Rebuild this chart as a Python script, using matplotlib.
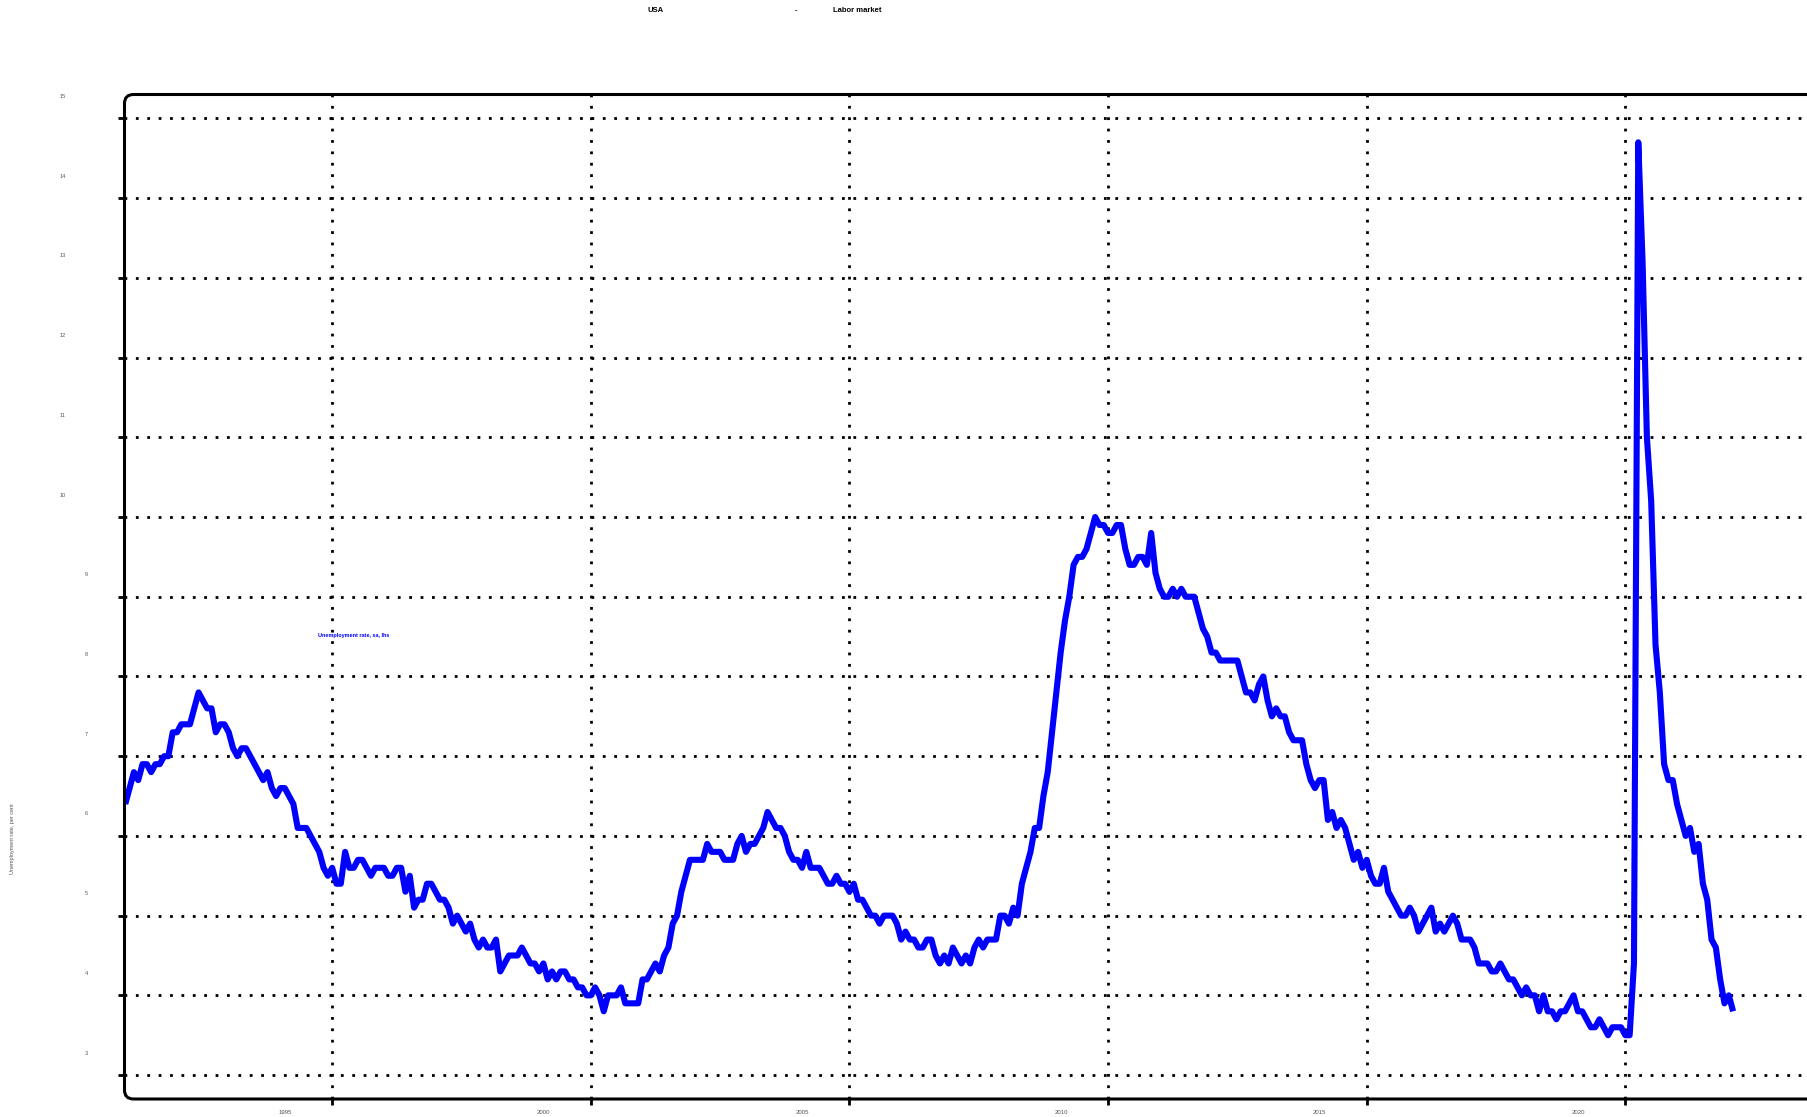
#!/usr/bin/env python

# plot.py - US unemployment rate, monthly, sa (Labor market chart)

# require
import matplotlib
matplotlib.use( 'Agg' )
import matplotlib.pyplot as plt
import matplotlib.transforms as mtrans
from matplotlib.patches import FancyBboxPatch
import numpy as np

# configure
plt.rcParams[ 'font.family' ] = [ 'Liberation Sans', 'DejaVu Sans' ]

TITLE_LEFT  = 'USA'
TITLE_SEP   = '-'
TITLE_RIGHT = 'Labor market'
YLABEL      = 'Unemployment rate, per cent'
SERIES      = 'Unemployment rate, sa, lhs'
START_YEAR  = 1991

# monthly values, Jan 1991 onwards
rate_1990s = [ 6.4, 6.6, 6.8, 6.7, 6.9, 6.9, 6.8, 6.9, 6.9, 7.0, 7.0, 7.3,
               7.3, 7.4, 7.4, 7.4, 7.6, 7.8, 7.7, 7.6, 7.6, 7.3, 7.4, 7.4,
               7.3, 7.1, 7.0, 7.1, 7.1, 7.0, 6.9, 6.8, 6.7, 6.8, 6.6, 6.5,
               6.6, 6.6, 6.5, 6.4, 6.1, 6.1, 6.1, 6.0, 5.9, 5.8, 5.6, 5.5,
               5.6, 5.4, 5.4, 5.8, 5.6, 5.6, 5.7, 5.7, 5.6, 5.5, 5.6, 5.6,
               5.6, 5.5, 5.5, 5.6, 5.6, 5.3, 5.5, 5.1, 5.2, 5.2, 5.4, 5.4,
               5.3, 5.2, 5.2, 5.1, 4.9, 5.0, 4.9, 4.8, 4.9, 4.7, 4.6, 4.7,
               4.6, 4.6, 4.7, 4.3, 4.4, 4.5, 4.5, 4.5, 4.6, 4.5, 4.4, 4.4,
               4.3, 4.4, 4.2, 4.3, 4.2, 4.3, 4.3, 4.2, 4.2, 4.1, 4.1, 4.0 ]
rate_2000s = [ 4.0, 4.1, 4.0, 3.8, 4.0, 4.0, 4.0, 4.1, 3.9, 3.9, 3.9, 3.9,
               4.2, 4.2, 4.3, 4.4, 4.3, 4.5, 4.6, 4.9, 5.0, 5.3, 5.5, 5.7,
               5.7, 5.7, 5.7, 5.9, 5.8, 5.8, 5.8, 5.7, 5.7, 5.7, 5.9, 6.0,
               5.8, 5.9, 5.9, 6.0, 6.1, 6.3, 6.2, 6.1, 6.1, 6.0, 5.8, 5.7,
               5.7, 5.6, 5.8, 5.6, 5.6, 5.6, 5.5, 5.4, 5.4, 5.5, 5.4, 5.4,
               5.3, 5.4, 5.2, 5.2, 5.1, 5.0, 5.0, 4.9, 5.0, 5.0, 5.0, 4.9,
               4.7, 4.8, 4.7, 4.7, 4.6, 4.6, 4.7, 4.7, 4.5, 4.4, 4.5, 4.4,
               4.6, 4.5, 4.4, 4.5, 4.4, 4.6, 4.7, 4.6, 4.7, 4.7, 4.7, 5.0,
               5.0, 4.9, 5.1, 5.0, 5.4, 5.6, 5.8, 6.1, 6.1, 6.5, 6.8, 7.3,
               7.8, 8.3, 8.7, 9.0, 9.4, 9.5, 9.5, 9.6, 9.8, 10.0, 9.9, 9.9 ]
rate_2010s = [ 9.8, 9.8, 9.9, 9.9, 9.6, 9.4, 9.4, 9.5, 9.5, 9.4, 9.8, 9.3,
               9.1, 9.0, 9.0, 9.1, 9.0, 9.1, 9.0, 9.0, 9.0, 8.8, 8.6, 8.5,
               8.3, 8.3, 8.2, 8.2, 8.2, 8.2, 8.2, 8.0, 7.8, 7.8, 7.7, 7.9,
               8.0, 7.7, 7.5, 7.6, 7.5, 7.5, 7.3, 7.2, 7.2, 7.2, 6.9, 6.7,
               6.6, 6.7, 6.7, 6.2, 6.3, 6.1, 6.2, 6.1, 5.9, 5.7, 5.8, 5.6,
               5.7, 5.5, 5.4, 5.4, 5.6, 5.3, 5.2, 5.1, 5.0, 5.0, 5.1, 5.0,
               4.8, 4.9, 5.0, 5.1, 4.8, 4.9, 4.8, 4.9, 5.0, 4.9, 4.7, 4.7,
               4.7, 4.6, 4.4, 4.4, 4.4, 4.3, 4.3, 4.4, 4.3, 4.2, 4.2, 4.1,
               4.0, 4.1, 4.0, 4.0, 3.8, 4.0, 3.8, 3.8, 3.7, 3.8, 3.8, 3.9,
               4.0, 3.8, 3.8, 3.7, 3.6, 3.6, 3.7, 3.6, 3.5, 3.6, 3.6, 3.6 ]
rate_2020s = [ 3.5, 3.5, 4.4, 14.7, 13.2, 11.0, 10.2, 8.4, 7.8, 6.9, 6.7, 6.7,
               6.4, 6.2, 6.0, 6.1, 5.8, 5.9, 5.4, 5.2, 4.7, 4.6, 4.2, 3.9,
               4.0, 3.8 ]

y_ticks = [ 3, 4, 5, 6, 7, 8, 9, 10, 11, 12, 13, 14, 15 ]
x_ticks = [ 1995, 2000, 2005, 2010, 2015, 2020 ]

# initialize
rate  = np.array( rate_1990s + rate_2000s + rate_2010s + rate_2020s )
years = START_YEAR + np.arange( len( rate ) ) / 12.0

W, H = 1808, 1117
fig  = plt.figure( figsize=( W / 100, H / 100 ), dpi=100 )
ax   = fig.add_axes( [ 124.5 / W, 18 / H, 1.03 - 124.5 / W, ( 1099 - 94.5 ) / H ] )

# the series
ax.plot( years, rate, color='#0000ff', linewidth=4.4, solid_joinstyle='round', solid_capstyle='butt', zorder=3 )
ax.set_xlim( 1990.985, 2024.58 )
ax.set_ylim( 2.7, 15.3 )

# grid, ticks
ax.set_xticks( x_ticks )
ax.set_yticks( y_ticks )
ax.grid( True, color='black', linestyle=( 0, ( 1, 3.1 ) ), linewidth=2.0 )
ax.tick_params( axis='both', direction='out', length=4.5, width=2.0, color='black', labelbottom=False, labelleft=False )
for side in ax.spines.values() : side.set_visible( False )

# tick labels, shifted the way the original draws them
ylab = mtrans.blended_transform_factory( fig.transFigure, ax.transData ) + mtrans.ScaledTranslation( 0, 22 / 100, fig.dpi_scale_trans )
for v in y_ticks :
	xpos = 63 if v >= 10 else 86
	ax.text( xpos / W, v, str( v ), transform=ylab, ha='center', va='center', fontsize=4, color='#555555' )

xlab = mtrans.blended_transform_factory( ax.transData, fig.transFigure ) + mtrans.ScaledTranslation( -47 / 100, 0, fig.dpi_scale_trans )
for v in x_ticks :
	ax.text( v, 1 - 1112 / H, str( v ), transform=xlab, ha='center', va='center', fontsize=4.3, color='#555555' )

# rounded frame
frame = FancyBboxPatch( ( 124.5, 18 ), 1900, 1099 - 94.5, boxstyle='round,pad=0,rounding_size=9',
                        transform=mtrans.IdentityTransform(), facecolor='none', edgecolor='black', linewidth=2.2, zorder=5 )
fig.add_artist( frame )

# texts
fig.text( 656 / W, 1 - 10.5 / H, TITLE_LEFT, ha='center', va='center', fontsize=5.5, fontweight='bold' )
fig.text( 796 / W, 1 - 10.5 / H, TITLE_SEP, ha='center', va='center', fontsize=5.5, fontweight='bold' )
fig.text( 857 / W, 1 - 10.5 / H, TITLE_RIGHT, ha='center', va='center', fontsize=5.5, fontweight='bold' )
fig.text( 13 / W, 1 - 839 / H, YLABEL, rotation=90, ha='center', va='center', fontsize=4, color='#555555' )
fig.text( 354 / W, 1 - 635 / H, SERIES, ha='center', va='center', fontsize=4, fontweight='bold', color='#0000ff' )

# output and done
fig.savefig( 'out.png', dpi=100 )
